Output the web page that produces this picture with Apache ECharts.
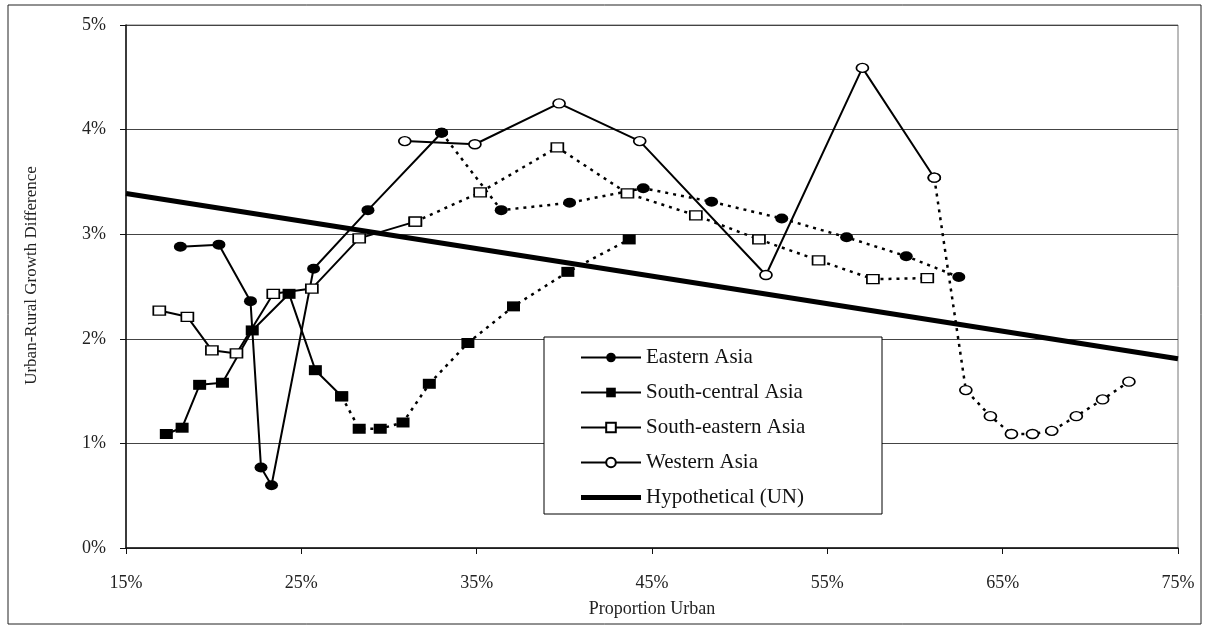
<!DOCTYPE html>
<html>
<head>
<meta charset="utf-8">
<script src="https://cdn.jsdelivr.net/npm/echarts@6/dist/echarts.min.js"></script>
<style>
html, body { margin: 0; padding: 0; background: #fff; }
#main { width: 1210px; height: 632px; }
</style>
</head>
<body>
<div id="main"></div>
<script>
/* 数据: 城市化比例(%) 与 城乡增长差(%) */
var ea_x = [18.1, 20.3, 22.1, 22.7, 23.3, 25.7, 28.8, 33.0, 36.4, 40.3, 44.5, 48.4, 52.4, 56.1, 59.5, 62.5];
var ea_y = [2.88, 2.90, 2.36, 0.77, 0.60, 2.67, 3.23, 3.97, 3.23, 3.30, 3.44, 3.31, 3.15, 2.97, 2.79, 2.59];
var ea_cut = 7;

var sc_x = [17.3, 18.2, 19.2, 20.5, 22.2, 24.3, 25.8, 27.3, 28.3, 29.5, 30.8, 32.3, 34.5, 37.1, 40.2, 43.7];
var sc_y = [1.09, 1.15, 1.56, 1.58, 2.08, 2.43, 1.70, 1.45, 1.14, 1.14, 1.20, 1.57, 1.96, 2.31, 2.64, 2.95];
var sc_cut = 7;

var se_x = [16.9, 18.5, 19.9, 21.3, 23.4, 25.6, 28.3, 31.5, 35.2, 39.6, 43.6, 47.5, 51.1, 54.5, 57.6, 60.7];
var se_y = [2.27, 2.21, 1.89, 1.86, 2.43, 2.48, 2.96, 3.12, 3.40, 3.83, 3.39, 3.18, 2.95, 2.75, 2.57, 2.58];
var se_cut = 7;

var wa_x = [30.9, 34.9, 39.7, 44.3, 51.5, 57.0, 61.1, 62.9, 64.3, 65.5, 66.7, 67.8, 69.2, 70.7, 72.2];
var wa_y = [3.89, 3.86, 4.25, 3.89, 2.61, 4.59, 3.54, 1.51, 1.26, 1.09, 1.09, 1.12, 1.26, 1.42, 1.59];
var wa_cut = 6;

var hy_x = [15, 75];
var hy_y = [3.39, 1.81];

var names = ['Eastern Asia', 'South-central Asia', 'South-eastern Asia', 'Western Asia', 'Hypothetical (UN)'];

var FONT = 'Liberation Serif';

function pts(xs, ys, a, b) {
    var out = [];
    for (var i = a; i <= b; i++) out.push([xs[i], ys[i]]);
    return out;
}

/* 每个地区分成实线段和虚线段两条 */
function twoParts(name, xs, ys, cut, sym) {
    var base = {
        type: 'line',
        symbol: sym.symbol,
        symbolSize: sym.size,
        itemStyle: { color: sym.fill, borderColor: '#000', borderWidth: sym.bw },
        animation: false,
        z: 3
    };
    var solid = Object.assign({}, base, {
        name: name,
        data: pts(xs, ys, 0, cut),
        lineStyle: { color: '#000', width: 2 }
    });
    var dotted = Object.assign({}, base, {
        name: name + ' *',
        data: pts(xs, ys, cut, xs.length - 1),
        lineStyle: { color: '#000', width: 2.5, type: [3, 5] }
    });
    return [solid, dotted];
}

var series = [];
series = series.concat(twoParts(names[0], ea_x, ea_y, ea_cut, { symbol: 'circle', size: [13, 10], fill: '#000', bw: 0 }));
series = series.concat(twoParts(names[1], sc_x, sc_y, sc_cut, { symbol: 'rect', size: [13, 10], fill: '#000', bw: 0 }));
series = series.concat(twoParts(names[2], se_x, se_y, se_cut, { symbol: 'rect', size: [12, 9], fill: '#fff', bw: 1.5 }));
series = series.concat(twoParts(names[3], wa_x, wa_y, wa_cut, { symbol: 'circle', size: [12, 9], fill: '#fff', bw: 1.5 }));
series.push({
    name: names[4],
    type: 'line',
    symbol: 'none',
    data: pts(hy_x, hy_y, 0, hy_x.length - 1),
    lineStyle: { color: '#000', width: 5 },
    itemStyle: { color: '#000' },
    animation: false,
    z: 2
});

var legendData = names.slice(0, 4).concat([{
    name: names[4],
    icon: 'path://M0,0 L60,0 L60,5 L0,5 Z',
    itemStyle: { color: '#000', borderWidth: 0 }
}]);

var chart = echarts.init(document.getElementById('main'));
chart.setOption({
    backgroundColor: '#fff',
    animation: false,
    textStyle: { fontFamily: FONT },
    grid: { left: 126, top: 25, right: 32, bottom: 84, show: true, borderColor: '#777', borderWidth: 1 },
    xAxis: {
        type: 'value',
        min: 15, max: 75, interval: 10,
        name: 'Proportion Urban',
        nameLocation: 'middle',
        nameGap: 52,
        nameTextStyle: { fontFamily: FONT, fontSize: 18, color: '#222' },
        axisLine: { lineStyle: { color: '#111', width: 1.5 } },
        axisTick: { show: true, length: 6, lineStyle: { color: '#111' } },
        axisLabel: { fontFamily: FONT, fontSize: 18, color: '#222', margin: 26, formatter: function (v) { return v + '%'; } },
        splitLine: { show: false }
    },
    yAxis: {
        type: 'value',
        min: 0, max: 5, interval: 1,
        name: 'Urban-Rural Growth Difference',
        nameLocation: 'middle',
        nameGap: 86,
        nameTextStyle: { fontFamily: FONT, fontSize: 17, color: '#222', padding: [0, 0, 0, 22] },
        axisLine: { show: true, lineStyle: { color: '#111', width: 1.5 } },
        axisTick: { show: true, length: 6, lineStyle: { color: '#111' } },
        axisLabel: { fontFamily: FONT, fontSize: 18, color: '#222', margin: 20, formatter: function (v) { return v + '%'; } },
        splitLine: { show: true, lineStyle: { color: '#444', width: 1 } }
    },
    legend: {
        data: legendData,
        orient: 'vertical',
        left: 580,
        top: 347,
        padding: 0,
        itemWidth: 60,
        itemHeight: 12,
        itemGap: 14,
        textStyle: { fontFamily: FONT, fontSize: 21, lineHeight: 20, color: '#111' },
        selectedMode: false,
        z: 5
    },
    graphic: [
        {
            type: 'rect',
            shape: { x: 544, y: 337, width: 338, height: 177 },
            style: { fill: '#fff', stroke: '#000', lineWidth: 1 },
            z: 4
        },
        {
            type: 'rect',
            shape: { x: 8, y: 5, width: 1193, height: 619 },
            style: { fill: null, stroke: '#222', lineWidth: 1 },
            z: 0,
            silent: true
        }
    ],
    series: series
});
</script>
</body>
</html>
